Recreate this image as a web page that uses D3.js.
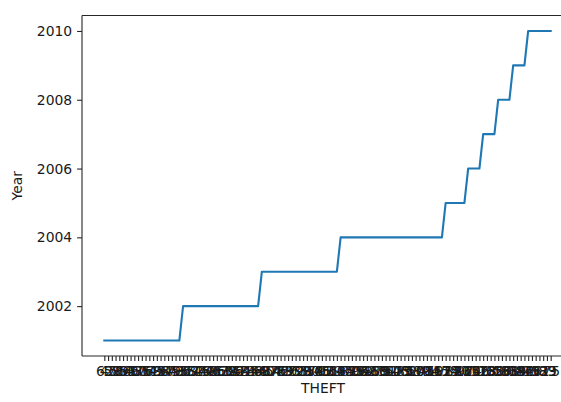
<!DOCTYPE html>
<html>
<head>
<meta charset="utf-8">
<script src="https://cdn.jsdelivr.net/npm/d3@7"></script>
<style>
  html, body { margin: 0; padding: 0; background: #fff; }
  svg { display: block; font-family: "DejaVu Sans", sans-serif; }
</style>
</head>
<body>
<svg id="chart" width="561" height="402"></svg>
<script>
// THEFT categories (x, categorical, in order of appearance)
const theft = [
  "62","45","58","71","39","84","53","66","47","90","36","77","51","69","43","88","57","64","49","73","55",
  "81","38","67","52","94","46","70","59","41","86","63","50","78","35","92","48","61","74","44","83","56",
  "68","40","97","54","76","42","89","60","33","72","65","99","37","80","58","101","46","93","51","79","63",
  "105","44","87","70","39","96","53","82","48","110","66","75","34","91","57","103","45","85","62","98","50","108","71","41","94","59","112","67",
  "115","54","88","120","47","97",
  "124","61","106","52",
  "118","73","130","65",
  "127","56","138","81",
  "134","69","142","86",
  "146","77","151","92","139","83","75"
];
// Year for each row
const year = [
  2001,2001,2001,2001,2001,2001,2001,2001,2001,2001,2001,2001,2001,2001,2001,2001,2001,2001,2001,2001,2001,
  2002,2002,2002,2002,2002,2002,2002,2002,2002,2002,2002,2002,2002,2002,2002,2002,2002,2002,2002,2002,2002,
  2003,2003,2003,2003,2003,2003,2003,2003,2003,2003,2003,2003,2003,2003,2003,2003,2003,2003,2003,2003,2003,
  2004,2004,2004,2004,2004,2004,2004,2004,2004,2004,2004,2004,2004,2004,2004,2004,2004,2004,2004,2004,2004,2004,2004,2004,2004,2004,2004,2004,
  2005,2005,2005,2005,2005,2005,
  2006,2006,2006,2006,
  2007,2007,2007,2007,
  2008,2008,2008,2008,
  2009,2009,2009,2009,
  2010,2010,2010,2010,2010,2010,2010
];
const yTicks = [2002, 2004, 2006, 2008, 2010];
const xLabel = "THEFT";
const yLabel = "Year";

(function () {
const svg = d3.select("#chart");
const mLeft = 82, mRight = 573, mTop = 15.5, mBottom = 356;
const n = theft.length;
const xPad = (n - 1) * 0.05;
const x = d3.scaleLinear().domain([-xPad, n - 1 + xPad]).range([mLeft, mRight]);
const yMin = d3.min(year), yMax = d3.max(year);
const yPad = (yMax - yMin) * 0.05;
const y = d3.scaleLinear().domain([yMin - yPad, yMax + yPad]).range([mBottom, mTop]);

const fs = 13.9;
const tickLen = 4.9;
const axisColor = "#262626";

// line
const data = theft.map((t, i) => ({ i, t, y: year[i] }));
svg.append("path")
  .datum(data)
  .attr("fill", "none")
  .attr("stroke", "#1f77b4")
  .attr("stroke-width", 2.1)
  .attr("stroke-linejoin", "round")
  .attr("stroke-linecap", "square")
  .attr("d", d3.line().x(d => x(d.i)).y(d => y(d.y)));

// x axis
const xAxis = d3.axisBottom(x)
  .tickValues(d3.range(n))
  .tickFormat(i => theft[i])
  .tickSizeInner(tickLen)
  .tickSizeOuter(0)
  .tickPadding(4.9);
const gx = svg.append("g").attr("transform", `translate(0,${mBottom})`).call(xAxis);
gx.select(".domain").remove();
gx.selectAll(".tick line").attr("stroke", axisColor).attr("stroke-width", 1.1);
gx.selectAll(".tick text").attr("font-size", fs).attr("fill", "#1a1a1a")
  .attr("font-family", "DejaVu Sans");

// y axis
const yAxis = d3.axisLeft(y)
  .tickValues(yTicks)
  .tickFormat(d3.format("d"))
  .tickSizeInner(tickLen)
  .tickSizeOuter(0)
  .tickPadding(4.9);
const gy = svg.append("g").attr("transform", `translate(${mLeft},0)`).call(yAxis);
gy.select(".domain").remove();
gy.selectAll(".tick line").attr("stroke", axisColor).attr("stroke-width", 1.1);
gy.selectAll(".tick text").attr("font-size", fs).attr("fill", "#1a1a1a")
  .attr("font-family", "DejaVu Sans");

// spines
const sp = svg.append("g").attr("fill", "none").attr("stroke", axisColor).attr("stroke-width", 1.1);
sp.append("line").attr("x1", mLeft).attr("x2", mLeft).attr("y1", mTop).attr("y2", mBottom);
sp.append("line").attr("x1", mLeft).attr("x2", mRight).attr("y1", mBottom).attr("y2", mBottom);
sp.append("line").attr("x1", mLeft).attr("x2", mRight).attr("y1", mTop).attr("y2", mTop);
sp.append("line").attr("x1", mRight).attr("x2", mRight).attr("y1", mTop).attr("y2", mBottom);

// axis labels
svg.append("text")
  .attr("x", 323).attr("y", 393)
  .attr("text-anchor", "middle")
  .attr("font-size", fs).attr("fill", "#1a1a1a")
  .text(xLabel);
svg.append("text")
  .attr("transform", `translate(22,${(mTop + mBottom) / 2}) rotate(-90)`)
  .attr("text-anchor", "middle")
  .attr("font-size", fs).attr("fill", "#1a1a1a")
  .text(yLabel);
})();
</script>
</body>
</html>
